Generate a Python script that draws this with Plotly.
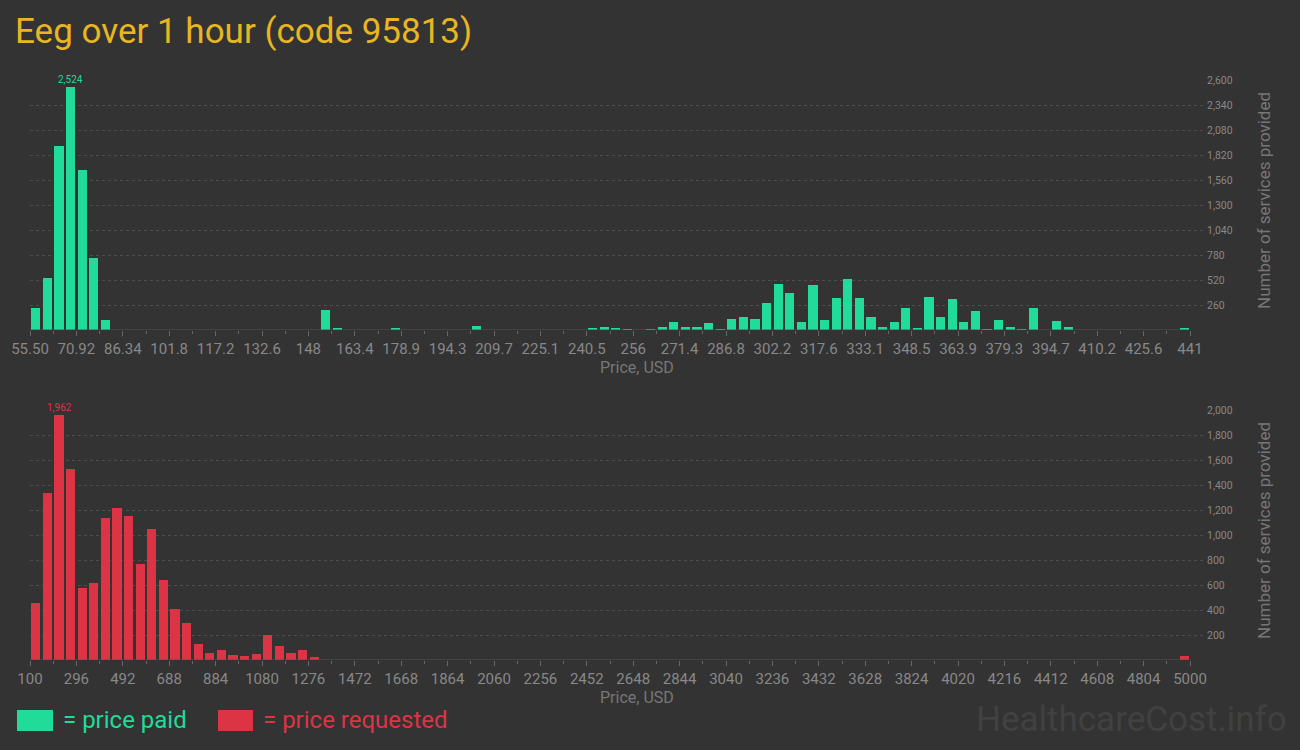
import plotly.graph_objects as go

# ---------------- data ----------------
title_text = "Eeg over 1 hour (code 95813)"

# price paid histogram (100 bins)
paid_start = 55.5
paid_bin_width = 3.855
paid_counts = [
    229, 541, 1914, 2524, 1664, 749, 104, 0, 0, 0,
    0, 0, 0, 0, 0, 0, 0, 0, 0, 0,
    0, 0, 0, 0, 0, 208, 21, 0, 0, 0,
    0, 21, 0, 0, 0, 0, 0, 0, 42, 0,
    0, 0, 0, 0, 0, 0, 0, 0, 21, 31,
    21, 10, 0, 10, 31, 83, 31, 31, 73, 10,
    114, 135, 114, 281, 478, 385, 83, 468, 104, 333,
    530, 333, 135, 31, 83, 229, 21, 343, 135, 322,
    83, 198, 10, 104, 31, 10, 229, 0, 94, 31,
    0, 0, 0, 0, 0, 0, 0, 0, 0, 21,
]
paid_tickvals = [55.5, 70.92, 86.34, 101.76, 117.18, 132.6, 148.02, 163.44, 178.86,
                 194.28, 209.7, 225.12, 240.54, 255.96, 271.38, 286.8, 302.22,
                 317.64, 333.06, 348.48, 363.9, 379.32, 394.74, 410.16, 425.58, 441.0]
paid_ticktext = ["55.50", "70.92", "86.34", "101.8", "117.2", "132.6", "148", "163.4",
                 "178.9", "194.3", "209.7", "225.1", "240.5", "256", "271.4", "286.8",
                 "302.2", "317.6", "333.1", "348.5", "363.9", "379.3", "394.7", "410.2",
                 "425.6", "441"]
paid_yticks = [260, 520, 780, 1040, 1300, 1560, 1820, 2080, 2340, 2600]
paid_yticktext = ["260", "520", "780", "1,040", "1,300", "1,560", "1,820", "2,080", "2,340", "2,600"]
paid_peak_label = "2,524"

# price requested histogram (100 bins)
req_start = 100
req_bin_width = 49
req_counts = [
    456, 1336, 1962, 1528, 576, 616, 1136, 1216, 1152, 768,
    1048, 640, 408, 296, 128, 56, 80, 40, 32, 48,
    200, 112, 56, 80, 24, 0, 0, 0, 0, 0,
    0, 0, 0, 0, 0, 0, 0, 0, 0, 0,
    0, 0, 0, 0, 0, 0, 0, 0, 0, 0,
    0, 0, 0, 0, 0, 0, 0, 0, 0, 0,
    0, 0, 0, 0, 0, 0, 0, 0, 0, 0,
    0, 0, 0, 0, 0, 0, 0, 0, 0, 0,
    0, 0, 0, 0, 0, 0, 0, 0, 0, 0,
    0, 0, 0, 0, 0, 0, 0, 0, 0, 32,
]
req_tickvals = [100, 296, 492, 688, 884, 1080, 1276, 1472, 1668, 1864, 2060, 2256, 2452,
                2648, 2844, 3040, 3236, 3432, 3628, 3824, 4020, 4216, 4412, 4608, 4804, 5000]
req_ticktext = [str(v) for v in req_tickvals]
req_yticks = [200, 400, 600, 800, 1000, 1200, 1400, 1600, 1800, 2000]
req_yticktext = ["200", "400", "600", "800", "1,000", "1,200", "1,400", "1,600", "1,800", "2,000"]
req_peak_label = "1,962"

legend_labels = ["= price paid", "= price requested"]
y_title = "Number of services provided"
x_title = "Price, USD"
watermark = "HealthcareCost.info"

# ---------------- style ----------------
BG = "#333333"
GREEN = "#21DB9A"
RED = "#DD3445"
GOLD = "#E8B620"
GRAY = "#888888"
GRID = "#4d4d4d"
FONT = "Roboto, sans-serif"

W, H = 1300, 750
def px_x(p):
    return p / W
def px_y(p):
    return 1 - p / H

paid_centers = [paid_start + (i + 0.5) * paid_bin_width for i in range(len(paid_counts))]
req_centers = [req_start + (i + 0.5) * req_bin_width for i in range(len(req_counts))]

fig = go.Figure()
fig.add_trace(go.Bar(x=paid_centers, y=paid_counts, width=paid_bin_width * 0.78,
                     marker=dict(color=GREEN, line=dict(width=0)), xaxis="x", yaxis="y",
                     showlegend=False, hoverinfo="x+y"))
fig.add_trace(go.Bar(x=req_centers, y=req_counts, width=req_bin_width * 0.78,
                     marker=dict(color=RED, line=dict(width=0)), xaxis="x2", yaxis="y2",
                     showlegend=False, hoverinfo="x+y"))

# plot area in pixels
L, R = 30, 1206
AX_END = 1190
paid_end = paid_tickvals[-1]
paid_range_max = paid_start + (R - L) / (AX_END - L) * (paid_end - paid_start)
req_end = req_tickvals[-1]
req_range_max = req_start + (R - L) / (AX_END - L) * (req_end - req_start)

paid_minor = [(a + b) / 2 for a, b in zip(paid_tickvals[:-1], paid_tickvals[1:])]
req_minor = [(a + b) / 2 for a, b in zip(req_tickvals[:-1], req_tickvals[1:])]

xcommon = dict(showgrid=False, zeroline=False, showline=False, ticks="outside", ticklen=5,
               tickcolor="#666666", tickwidth=1, tickfont=dict(family=FONT, size=15, color=GRAY),
               tickmode="array", fixedrange=True, automargin=False)
ycommon = dict(side="right", showgrid=True, gridcolor=GRID, griddash="3px,3px", gridwidth=1,
               zeroline=False, showline=False, ticks="", tickmode="array",
               tickfont=dict(family=FONT, size=10.5, color=GRAY), fixedrange=True,
               automargin=False)

fig.update_layout(
    width=W, height=H, autosize=False,
    paper_bgcolor=BG, plot_bgcolor=BG,
    margin=dict(l=0, r=0, t=0, b=0, pad=0),
    bargap=0,
    xaxis=dict(domain=[px_x(L), px_x(R)], range=[paid_start, paid_range_max], anchor="y",
               tickvals=paid_tickvals, ticktext=paid_ticktext,
               minor=dict(tickvals=paid_minor, ticks="outside", ticklen=3, tickcolor="#666666"),
               **xcommon),
    yaxis=dict(domain=[px_y(330), px_y(80)], range=[0, 2600], anchor="x",
               tickvals=paid_yticks, ticktext=paid_yticktext, **ycommon),
    xaxis2=dict(domain=[px_x(L), px_x(R)], range=[req_start, req_range_max], anchor="y2",
                tickvals=req_tickvals, ticktext=req_ticktext,
                minor=dict(tickvals=req_minor, ticks="outside", ticklen=3, tickcolor="#666666"),
                **xcommon),
    yaxis2=dict(domain=[px_y(660), px_y(410)], range=[0, 2000], anchor="x2",
                tickvals=req_yticks, ticktext=req_yticktext, **ycommon),
)

shapes = [
    dict(type="line", xref="x", yref="y", x0=paid_start, x1=paid_end, y0=0, y1=0,
         line=dict(color="#555555", width=1)),
    dict(type="line", xref="x2", yref="y2", x0=req_start, x1=req_end, y0=0, y1=0,
         line=dict(color="#555555", width=1)),
    dict(type="rect", xref="paper", yref="paper", x0=px_x(17), x1=px_x(53),
         y0=px_y(731), y1=px_y(710), fillcolor=GREEN, line=dict(width=0)),
    dict(type="rect", xref="paper", yref="paper", x0=px_x(218), x1=px_x(253),
         y0=px_y(731), y1=px_y(710), fillcolor=RED, line=dict(width=0)),
]
fig.update_layout(shapes=shapes)

anns = [
    dict(text=title_text, xref="paper", yref="paper", x=px_x(13), y=px_y(32),
         xanchor="left", yanchor="middle", showarrow=False,
         font=dict(family=FONT, size=35, color=GOLD)),
    dict(text=paid_peak_label, xref="x", yref="y", x=paid_centers[3], y=paid_counts[3],
         yanchor="bottom", yshift=0, showarrow=False, font=dict(family=FONT, size=10, color=GREEN)),
    dict(text=req_peak_label, xref="x2", yref="y2", x=req_centers[2], y=req_counts[2],
         yanchor="bottom", yshift=0, showarrow=False, font=dict(family=FONT, size=10, color=RED)),
    dict(text=x_title, xref="paper", yref="paper", x=px_x(637), y=px_y(368),
         xanchor="center", yanchor="middle", showarrow=False,
         font=dict(family=FONT, size=16, color="#777777")),
    dict(text=x_title, xref="paper", yref="paper", x=px_x(637), y=px_y(697),
         xanchor="center", yanchor="middle", showarrow=False,
         font=dict(family=FONT, size=16, color="#777777")),
    dict(text=y_title, xref="paper", yref="paper", x=px_x(1264), y=px_y(201),
         xanchor="center", yanchor="middle", textangle=-90, showarrow=False,
         font=dict(family=FONT, size=17, color="#777777")),
    dict(text=y_title, xref="paper", yref="paper", x=px_x(1264), y=px_y(531),
         xanchor="center", yanchor="middle", textangle=-90, showarrow=False,
         font=dict(family=FONT, size=17, color="#777777")),
    dict(text=legend_labels[0], xref="paper", yref="paper", x=px_x(61), y=px_y(720),
         xanchor="left", yanchor="middle", showarrow=False,
         font=dict(family=FONT, size=24, color=GREEN)),
    dict(text=legend_labels[1], xref="paper", yref="paper", x=px_x(261), y=px_y(720),
         xanchor="left", yanchor="middle", showarrow=False,
         font=dict(family=FONT, size=24, color=RED)),
    dict(text=watermark, xref="paper", yref="paper", x=px_x(1289), y=px_y(719),
         xanchor="right", yanchor="middle", showarrow=False,
         font=dict(family=FONT, size=35, color="#414141")),
]
fig.update_layout(annotations=anns)

fig.write_html("out.html", config={"displayModeBar": False},
               post_script="document.body.style.margin='0';document.body.style.background='#333333';")
